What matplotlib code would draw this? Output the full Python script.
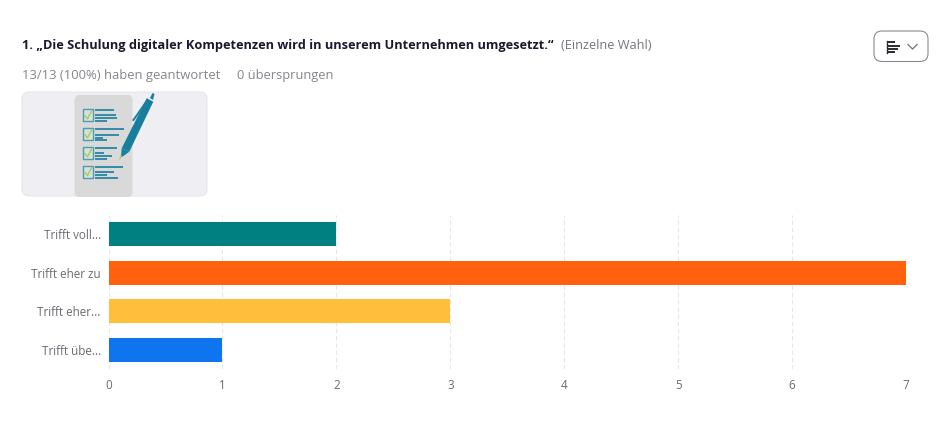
import matplotlib
matplotlib.use("Agg")
import matplotlib.pyplot as plt
from matplotlib.patches import FancyBboxPatch, Rectangle, Polygon

plt.rcParams['font.family'] = ['Open Sans', 'DejaVu Sans']

# --- data ---
labels = ["Trifft voll...", "Trifft eher zu", "Trifft eher...", "Trifft übe..."]
counts = [2, 7, 3, 1]
bar_colors = ["#008080", "#FF610F", "#FFBF3C", "#0F75EE"]
ticks = [0, 1, 2, 3, 4, 5, 6, 7]

title = "1. „Die Schulung digitaler Kompetenzen wird in unserem Unternehmen umgesetzt.“"
kind = "(Einzelne Wahl)"
answered = "13/13 (100%) haben geantwortet"
skipped = "0 übersprungen"

W, H = 952, 429
fig = plt.figure(figsize=(W / 100, H / 100), dpi=100, facecolor="white")

# overlay in pixel coords for the page stuff around the chart
page = fig.add_axes([0, 0, 1, 1])
page.set_xlim(0, W)
page.set_ylim(H, 0)
page.axis("off")

page.text(22, 45.5, title, fontsize=9.17, fontweight="bold", color="#1A1A2E", va="center")
page.text(561, 45.5, kind, fontsize=9.2, color="#75757F", va="center")
page.text(22, 75, answered, fontsize=9.35, color="#85858D", va="center")
page.text(237, 75, skipped, fontsize=9.3, color="#85858D", va="center")

# dropdown button
page.add_patch(FancyBboxPatch((874, 31), 54, 30.5, boxstyle="round,pad=0,rounding_size=8",
                              fc="white", ec="#8A8A92", lw=0.8))
for y, x2 in [(42, 895), (45.5, 900), (49, 898), (52, 895)]:
    page.plot([887, x2], [y, y], color="#2B2B33", lw=1.4, solid_capstyle="butt")
page.plot([887, 887], [41, 53], color="#2B2B33", lw=1)
page.plot([908, 912.5, 917], [44.5, 49, 44.5], color="#6E6E76", lw=0.9)

# picture card
page.add_patch(FancyBboxPatch((22, 92), 185, 104, boxstyle="round,pad=0,rounding_size=7",
                              fc="#EEEEF3", ec="#E0E0E6", lw=0.6))
page.add_patch(FancyBboxPatch((74.5, 95), 58, 102, boxstyle="round,pad=0,rounding_size=5",
                              fc="#D9D9D9", ec="none"))
teal = "#177E9E"
boxes = [109.3, 128.3, 147.3, 166]
line_rows = [
    [(110, 114.3), (115, 116), (117.7, 116.7), (121, 107)],
    [(129.3, 124), (135, 119.3), (137.7, 103.3), (140, 107.3)],
    [(148.3, 117.3), (153.3, 104.3), (156, 111.7), (159, 107.3)],
    [(166.7, 122.7), (172, 114.3), (175.3, 106.7), (178, 118.3)],
]
for y0, lines in zip(boxes, line_rows):
    page.add_patch(Rectangle((83, y0), 10, 12, fc="#D3E3DA", ec="#4F9AB0", lw=1))
    page.plot([85, 87.5, 91.5], [y0 + 6.5, y0 + 9.5, y0 + 2], color="#A9C860", lw=1)
    for ly, x2 in lines:
        page.plot([95.3, x2], [ly, ly], color=teal, lw=1.2, solid_capstyle="butt")
# pen
page.add_patch(Polygon([(146.7, 98.3), (153.3, 101.7), (129.3, 151.7), (121.7, 148.3)], fc=teal, ec="none"))
page.add_patch(Polygon([(121.7, 148.3), (129.3, 151.7), (122, 157), (121, 156)], fc=teal, ec="none"))
page.add_patch(Polygon([(122.5, 156), (120.5, 155), (119, 160.5)], fc="#A9C860", ec="none"))
page.add_patch(Polygon([(150, 98), (152.5, 93), (154.5, 94), (153, 100)], fc=teal, ec="none"))
page.plot([133.5, 147.5], [120, 100], color=teal, lw=1.4)

# the chart
left, right, top, bottom = 108.5, 906, 215, 369
ax = fig.add_axes([left / W, 1 - bottom / H, (right - left) / W, (bottom - top) / H])
ax.patch.set_alpha(0)
y = list(range(len(labels)))
ax.barh(y, counts, height=0.615, color=bar_colors, zorder=3)
ax.set_ylim(len(labels) - 0.5, -0.5)
ax.set_xlim(0, 7)
ax.set_xticks(ticks)
ax.set_yticks(y)
ax.set_yticklabels(labels)
ax.grid(axis="x", color="#E6E7EC", lw=0.8, linestyle=(0, (4, 2.5)), zorder=0)
ax.grid(axis="y", visible=False)
for s in ax.spines.values():
    s.set_visible(False)
ax.tick_params(axis="both", length=0, labelsize=8.4, labelcolor="#6B6B73")
ax.tick_params(axis="y", pad=5.5)
ax.tick_params(axis="x", pad=7)

fig.savefig("out.png", dpi=100)
